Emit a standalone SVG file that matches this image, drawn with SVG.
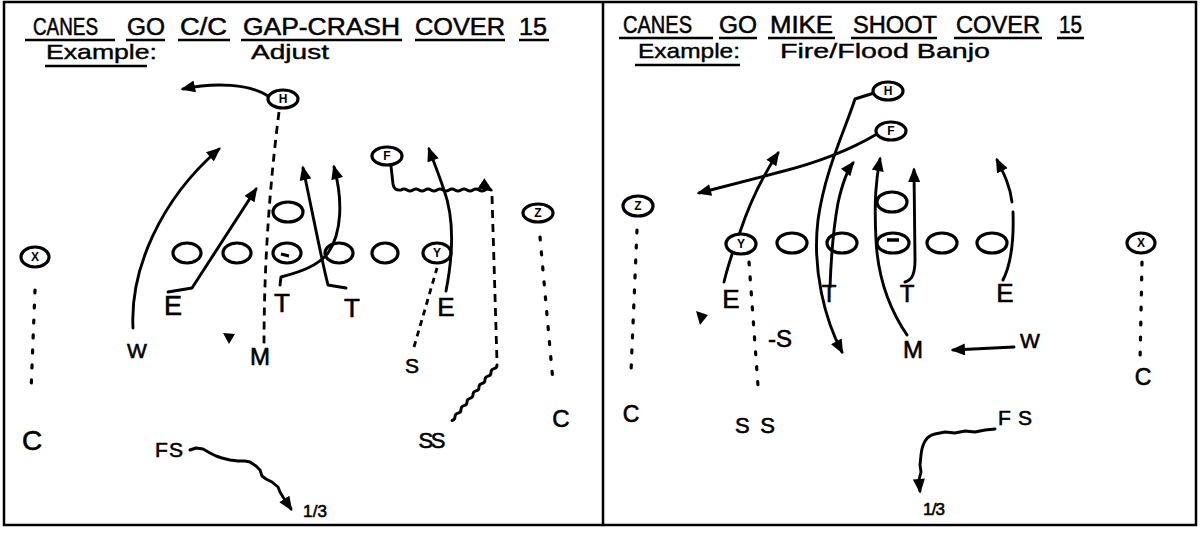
<svg xmlns="http://www.w3.org/2000/svg" width="1200" height="534" viewBox="0 0 1200 534">
<defs>
<style>
.ttl{font-family:"Liberation Sans",Arial,sans-serif;font-size:23px;fill:#000;stroke:#000;stroke-width:0.5}
.ex{font-family:"Liberation Sans",Arial,sans-serif;font-size:21px;fill:#000;stroke:#000;stroke-width:0.4}
.lbl{font-family:"Liberation Sans",Arial,sans-serif;fill:#000;text-anchor:middle;stroke:#000;stroke-width:0.6}
.cl{font-family:"Liberation Sans",Arial,sans-serif;font-size:12px;font-weight:bold;fill:#000;text-anchor:middle}
.ul{stroke:#000;stroke-width:2.6;fill:none}
.rt{stroke:#000;stroke-width:2.9;fill:none;stroke-linecap:round;stroke-linejoin:round}
.ar{marker-end:url(#ah)}
.dash{stroke:#000;stroke-width:2.8;fill:none;stroke-dasharray:8 6}
.dot{stroke:#000;stroke-width:3.2;fill:none;stroke-dasharray:3 12;stroke-linecap:round}
.ov{fill:none;stroke:#000;stroke-width:3.2}
.pl{fill:#fff;stroke:#000;stroke-width:3.2}
</style>
<marker id="ah" viewBox="0 0 12 10" refX="10" refY="5" markerWidth="15" markerHeight="12" markerUnits="userSpaceOnUse" orient="auto">
<path d="M0,0 L12,5 L0,10 z" fill="#000"/>
</marker>
</defs>
<rect x="0" y="0" width="1200" height="534" fill="#fff"/>
<g id="frame">
<rect x="4" y="2" width="1192" height="523" fill="none" stroke="#000" stroke-width="2.5"/>
<line x1="603" y1="2" x2="603" y2="525" stroke="#000" stroke-width="2.5"/>
</g>
<g id="title-left">
<text class="ttl" x="33" y="35" textLength="65" lengthAdjust="spacingAndGlyphs">CANES</text>
<text class="ttl" x="127" y="35" textLength="38" lengthAdjust="spacingAndGlyphs">GO</text>
<text class="ttl" x="180" y="35" textLength="47" lengthAdjust="spacingAndGlyphs">C/C</text>
<text class="ttl" x="243" y="35" textLength="157" lengthAdjust="spacingAndGlyphs">GAP-CRASH</text>
<text class="ttl" x="415" y="35" textLength="90" lengthAdjust="spacingAndGlyphs">COVER</text>
<text class="ttl" x="519" y="35" textLength="28" lengthAdjust="spacingAndGlyphs">15</text>
<path class="ul" d="M25,40 H115 M126,40 H165 M178,40 H230 M241,40 H402 M415,40 H505 M519,40 H549 M45,66 H147"/>
<text class="ex" x="46" y="59" textLength="111" lengthAdjust="spacingAndGlyphs">Example:</text>
<text class="ex" x="251" y="59" textLength="78" lengthAdjust="spacingAndGlyphs">Adjust</text>
</g>
<g id="title-right">
<text class="ttl" x="623" y="33" textLength="69" lengthAdjust="spacingAndGlyphs">CANES</text>
<text class="ttl" x="719" y="33" textLength="38" lengthAdjust="spacingAndGlyphs">GO</text>
<text class="ttl" x="770" y="33" textLength="63" lengthAdjust="spacingAndGlyphs">MIKE</text>
<text class="ttl" x="853" y="33" textLength="84" lengthAdjust="spacingAndGlyphs">SHOOT</text>
<text class="ttl" x="956" y="33" textLength="84" lengthAdjust="spacingAndGlyphs">COVER</text>
<text class="ttl" x="1059" y="33" textLength="23" lengthAdjust="spacingAndGlyphs">15</text>
<path class="ul" d="M619,38 H713 M719,38 H757 M768,38 H835 M851,38 H937 M954,38 H1042 M1057,38 H1084 M635,65 H740"/>
<text class="ex" x="638" y="58" textLength="102" lengthAdjust="spacingAndGlyphs">Example:</text>
<text class="ex" x="780" y="58" textLength="210" lengthAdjust="spacingAndGlyphs">Fire/Flood Banjo</text>
</g>
<g id="connectors">
<path class="rt ar" d="M268,96 C250,84 215,82 183,89"/>
<path class="dash" d="M279,112 Q264,230 264,345"/>
<path class="rt ar" d="M133,328 C130,270 160,200 219,149"/>
<path class="rt ar" d="M168,292 L192,288 Q220,245 256,189"/>
<path class="rt ar" d="M280,285 L281,277 C300,272 318,266 328,253 C342,233 343,200 334,167"/>
<path class="rt ar" d="M346,288 L328,285 C322,262 313,215 303,168"/>
<path class="rt ar" d="M446,291 C453,255 455,220 444,190 C438,172 433,160 429,149"/>
<path class="dash" style="stroke-dasharray:6 5" d="M414,347 L437,268"/>
<path class="rt ar" d="M391,166 L393,184 Q394,191 401,190 q3,-2 6,0 t6,0 t6,0 t6,0 t6,0 t6,0 t6,0 t6,0 t6,0 t6,0 t6,0 t6,0 t6,0 t6,0 t6,0"/>
<path class="dash" d="M492,196 L497,362"/>
<path class="rt" d="M497,365 q0,3.1 -3,3.7 t-3,3.7 t-3,3.7 t-3,3.7 t-3,3.7 t-3,3.7 t-3,3.7 t-3,3.7 t-3,3.7 t-3,3.7 t-3,3.7 t-3,3.7 t-3,3.7 t-3,3.7 t-3,3.7"/>
<path class="dot" d="M540,237 L553,382"/>
<path class="dot" d="M35,290 L31,392"/>
<path class="rt ar" d="M190,450 L196,448 L203,449 L210,453 L216,456 L222,458 L230,460 L238,461 L245,461 L250,462 L256,466 L260,470 L262,476 L266,479 L272,482 L278,487 L280,492 L283,497 L287,503 L291,509"/>
<path class="rt ar" d="M874,93 L855,99 C845,130 825,170 818,220 C812,270 825,320 842,352"/>
<path class="rt ar" d="M877,134 C850,150 820,162 780,172 L699,193"/>
<path class="rt ar" d="M724,282 C728,265 734,248 740,232 C749,205 760,180 778,153"/>
<path class="rt ar" d="M830,287 C831,260 833,230 838,203 C842,185 846,172 853,163"/>
<path class="rt ar" d="M907,335 C890,310 878,280 876,240 C874,200 876,180 880,159"/>
<path class="rt ar" d="M905,282 C912,280 915,274 915,260 L914,170"/>
<path class="rt" d="M1003,280 C1012,262 1014,240 1013,212"/>
<path class="rt ar" d="M1012,202 C1010,185 1003,172 997,160"/>
<path class="rt ar" d="M1014,347 L953,350"/>
<path class="dot" d="M749,262 L758,386"/>
<path class="dot" d="M637,230 L631,372"/>
<path class="dot" d="M1142,262 L1140,362"/>
<path class="rt ar" d="M995,429 L985,430 L975,432 L965,431 L955,433 L945,432 L935,434 C925,436 922,445 921,455 L920,465 L921,472 L919,480 L920,491"/>
</g>
<g id="left-X"><ellipse class="pl" cx="35" cy="257" rx="14" ry="10"/><text class="cl" x="35" y="261">X</text></g>
<g id="left-H"><ellipse class="pl" cx="283" cy="99" rx="15" ry="9"/><text class="cl" x="283" y="103">H</text></g>
<g id="left-F"><ellipse class="pl" cx="387" cy="156" rx="15" ry="9"/><text class="cl" x="387" y="160">F</text></g>
<g id="left-Z"><ellipse class="pl" cx="538" cy="213" rx="15" ry="9"/><text class="cl" x="538" y="217">Z</text></g>
<g id="left-line">
<ellipse class="ov" cx="187" cy="253" rx="14" ry="10"/>
<ellipse class="ov" cx="237" cy="253" rx="14" ry="10"/>
<ellipse class="ov" cx="287" cy="253" rx="14" ry="10"/>
<line x1="281" y1="254" x2="289" y2="256" stroke="#000" stroke-width="3"/>
<ellipse class="ov" cx="339" cy="253" rx="14" ry="10"/>
<ellipse class="ov" cx="385" cy="253" rx="13" ry="10"/>
<ellipse class="ov" cx="288" cy="212" rx="15" ry="10"/>
</g>
<g id="left-Y"><ellipse class="ov" cx="437" cy="253" rx="14" ry="10"/><text class="cl" x="437" y="257">Y</text></g>
<g id="left-labels">
<text class="lbl" font-size="27" x="173" y="315">E</text>
<text class="lbl" font-size="26" x="282" y="312">T</text>
<text class="lbl" font-size="26" x="352" y="317">T</text>
<text class="lbl" font-size="26" x="446" y="316">E</text>
<text class="lbl" font-size="21" x="137" y="358">W</text>
<text class="lbl" font-size="24" x="260" y="365">M</text>
<text class="lbl" font-size="21" x="412" y="373">S</text>
<text class="lbl" font-size="28" x="32" y="450">C</text>
<text class="lbl" font-size="22" x="432" y="448" textLength="27">SS</text>
<text class="lbl" font-size="24" x="561" y="427">C</text>
<text class="lbl" font-size="21" x="169" y="457" textLength="28">FS</text>
<text class="lbl" font-size="17" x="315" y="517" textLength="24">1/3</text>
<polygon points="223,333 235,334 229,344" fill="#000"/>
</g>
<g id="right-Z"><ellipse class="pl" cx="638" cy="206" rx="15" ry="10"/><text class="cl" x="638" y="210">Z</text></g>
<g id="right-H"><ellipse class="pl" cx="888" cy="91" rx="15" ry="9"/><text class="cl" x="888" y="95">H</text></g>
<g id="right-F"><ellipse class="pl" cx="891" cy="131" rx="15" ry="9"/><text class="cl" x="891" y="135">F</text></g>
<g id="right-X"><ellipse class="pl" cx="1141" cy="243" rx="14" ry="10"/><text class="cl" x="1141" y="247">X</text></g>
<g id="right-Y"><ellipse class="pl" cx="741" cy="244" rx="15" ry="10"/><text class="cl" x="741" y="248">Y</text></g>
<g id="right-line">
<ellipse class="ov" cx="792" cy="243" rx="15" ry="10"/>
<ellipse class="ov" cx="842" cy="243" rx="15" ry="10"/>
<ellipse class="ov" cx="893" cy="243" rx="16" ry="10"/>
<line x1="887" y1="240" x2="899" y2="240" stroke="#000" stroke-width="3.5"/>
<ellipse class="ov" cx="942" cy="243" rx="15" ry="10"/>
<ellipse class="ov" cx="992" cy="243" rx="15" ry="10"/>
<ellipse class="ov" cx="892" cy="202" rx="15" ry="10"/>
</g>
<g id="right-labels">
<text class="lbl" font-size="26" x="731" y="308">E</text>
<text class="lbl" font-size="24" x="829" y="302">T</text>
<text class="lbl" font-size="24" x="907" y="302">T</text>
<text class="lbl" font-size="26" x="1005" y="302">E</text>
<text class="lbl" font-size="24" x="780" y="347">-S</text>
<text class="lbl" font-size="24" x="913" y="358">M</text>
<text class="lbl" font-size="21" x="1030" y="348">W</text>
<text class="lbl" font-size="22" x="755" y="433" textLength="40">S S</text>
<text class="lbl" font-size="23" x="631" y="422">C</text>
<text class="lbl" font-size="23" x="1143" y="385">C</text>
<text class="lbl" font-size="21" x="1015" y="425" textLength="34">FS</text>
<text class="lbl" font-size="17" x="934" y="515" textLength="22">1/3</text>
<polygon points="696,311 708,315 700,325" fill="#000"/>
</g>
</svg>
